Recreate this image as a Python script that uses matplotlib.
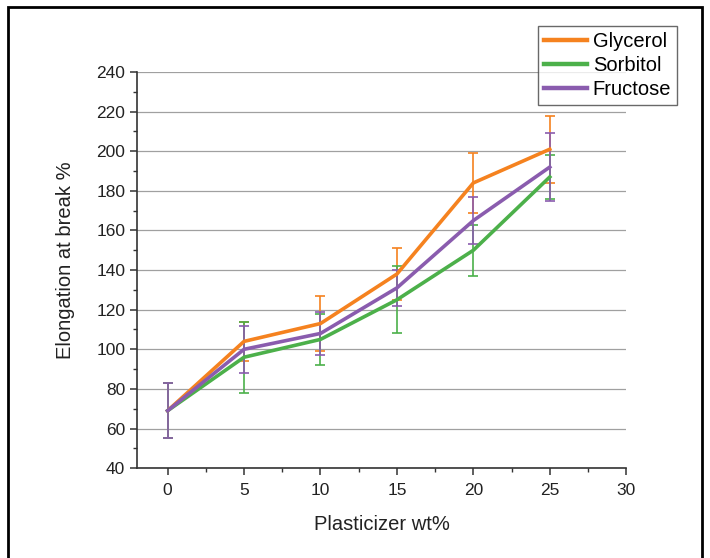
import matplotlib.pyplot as plt
from matplotlib.patches import Rectangle
from matplotlib.ticker import MultipleLocator

plt.rcParams['font.family'] = ['Liberation Sans', 'DejaVu Sans']

# plasticizer content (wt%)
wt = [0, 5, 10, 15, 20, 25]

glycerol = [69, 104, 113, 138, 184, 201]
glycerol_err = [14, 10, 14, 13, 15, 17]

sorbitol = [69, 96, 105, 125, 150, 187]
sorbitol_err = [14, 18, 13, 17, 13, 11]

fructose = [69, 100, 108, 131, 165, 192]
fructose_err = [14, 12, 11, 9, 12, 17]

series = [
    ('Glycerol', glycerol, glycerol_err, '#F5821F'),
    ('Sorbitol', sorbitol, sorbitol_err, '#4CB04A'),
    ('Fructose', fructose, fructose_err, '#8A5CAE'),
]

fig = plt.figure(figsize=(7.1, 5.58), dpi=100)
ax = fig.add_axes([0.193, 0.161, 0.689, 0.710])

for name, vals, err, col in series:
    ax.errorbar(wt, vals, yerr=err, color=col, ecolor=col, elinewidth=1.2,
                capsize=3.5, capthick=1.2, linewidth=2.6, label=name, zorder=3)

ax.set_xlim(-2, 30)
ax.set_ylim(40, 240)
ax.xaxis.set_major_locator(MultipleLocator(5))
ax.xaxis.set_minor_locator(MultipleLocator(2.5))
ax.yaxis.set_major_locator(MultipleLocator(20))
ax.yaxis.set_minor_locator(MultipleLocator(10))

ax.spines['top'].set_visible(False)
ax.spines['right'].set_visible(False)
for s in ('left', 'bottom'):
    ax.spines[s].set_linewidth(1.2)
    ax.spines[s].set_color('#333333')

ax.tick_params(which='major', direction='out', length=5, width=1.1,
               labelsize=12.5, colors='#333333', labelcolor='#222222')
ax.tick_params(which='minor', direction='out', length=3, width=1.0,
               colors='#333333')
ax.tick_params(axis='x', which='major', pad=6)

ax.yaxis.grid(True, color='#a0a0a0', linewidth=0.9)
ax.set_axisbelow(True)
ax.get_ygridlines()[-1].set_visible(False)

ax.set_xlabel('Plasticizer wt%', fontsize=14.5, color='#222222')
ax.set_ylabel('Elongation at break %', fontsize=14.5, color='#222222')
ax.xaxis.set_label_coords(0.5, -0.118)
ax.yaxis.set_label_coords(-0.126, 0.525)

handles, labels = ax.get_legend_handles_labels()
handles = [h[0] for h in handles]
leg = fig.legend(handles, labels, loc='upper right',
                 bbox_to_anchor=(0.954, 0.953), fontsize=14.5,
                 frameon=True, fancybox=False, edgecolor='#444444',
                 handlelength=2.1, handletextpad=0.3, borderpad=0.3,
                 labelspacing=0.25, borderaxespad=0)
leg.get_frame().set_linewidth(1.0)
for h in leg.get_lines():
    h.set_linewidth(3.2)

# outer frame around the figure
fig.patches.append(Rectangle((8 / 710, -0.02), 694 / 710, 1.008,
                             transform=fig.transFigure, fill=False,
                             edgecolor='black', linewidth=2))

fig.savefig('out.png', dpi=100)
